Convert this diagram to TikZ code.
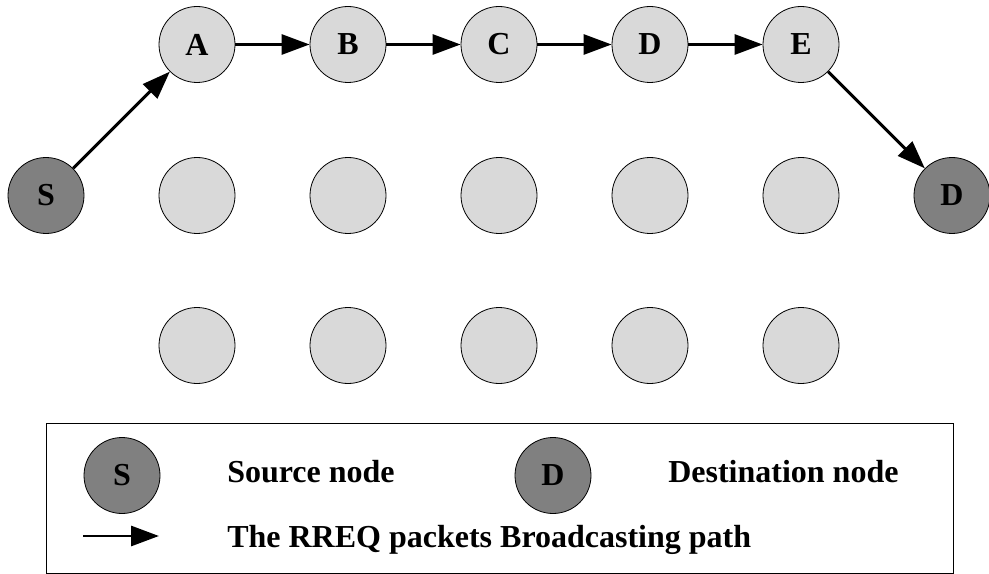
\documentclass[tikz,border=0pt]{standalone}
\usepackage{fontspec}
\setmainfont{Liberation Serif}
\usetikzlibrary{arrows.meta}
\definecolor{nodegrey}{RGB}{217,217,217}
\definecolor{endgrey}{RGB}{128,128,128}
\begin{document}
\begin{tikzpicture}[x=0.75pt,y=-0.75pt,
  relay/.style={circle,draw=black,line width=0.6pt,fill=nodegrey,
    minimum size=57pt,inner sep=0pt,font=\fontsize{24}{24}\selectfont\bfseries},
  terminal/.style={relay,fill=endgrey},
  hop/.style={line width=2.2pt,-{Triangle[length=21pt,width=15pt]}},
  legendtext/.style={anchor=base west,inner sep=0pt,
    font=\fontsize{24}{24}\selectfont\bfseries}]
\useasboundingbox (0,0) rectangle (989,574);

% top row: the broadcast path
\node[relay] (A) at (197,44.5) {A};
\node[relay] (B) at (348,44.5) {B};
\node[relay] (C) at (499,44.5) {C};
\node[relay] (Dt) at (650,44.5) {D};
\node[relay] (E) at (801,44.5) {E};

% middle row with source and destination
\node[terminal] (S) at (46,195.5) {S};
\node[relay] (m1) at (197,195.5) {};
\node[relay] (m2) at (348,195.5) {};
\node[relay] (m3) at (499,195.5) {};
\node[relay] (m4) at (650,195.5) {};
\node[relay] (m5) at (801,195.5) {};
\node[terminal] (Dst) at (952,195.5) {D};

% bottom row
\node[relay] (b1) at (197,345.5) {};
\node[relay] (b2) at (348,345.5) {};
\node[relay] (b3) at (499,345.5) {};
\node[relay] (b4) at (650,345.5) {};
\node[relay] (b5) at (801,345.5) {};

% RREQ path
\draw[hop] (S) -- (A);
\draw[hop] (A) -- (B);
\draw[hop] (B) -- (C);
\draw[hop] (C) -- (Dt);
\draw[hop] (Dt) -- (E);
\draw[hop] (E) -- (Dst);

% legend
\draw[line width=0.6pt] (46,573.6) -- (46,423) -- (953,423) -- (953,573.6) -- cycle;
\node[terminal] (keyS) at (122,475.5) {S};
\node[legendtext] (keySt) at (227,482) {Source node};
\node[terminal] (keyD) at (553,475.5) {D};
\node[legendtext] (keyDt) at (668,482) {Destination node};
\coordinate (keyA1) at (83,536);
\coordinate (keyA2) at (159,536);
\draw[hop] (keyA1) -- (keyA2);
\node[legendtext] (keyAt) at (227,547) {The RREQ packets Broadcasting path};
\end{tikzpicture}
\end{document}
